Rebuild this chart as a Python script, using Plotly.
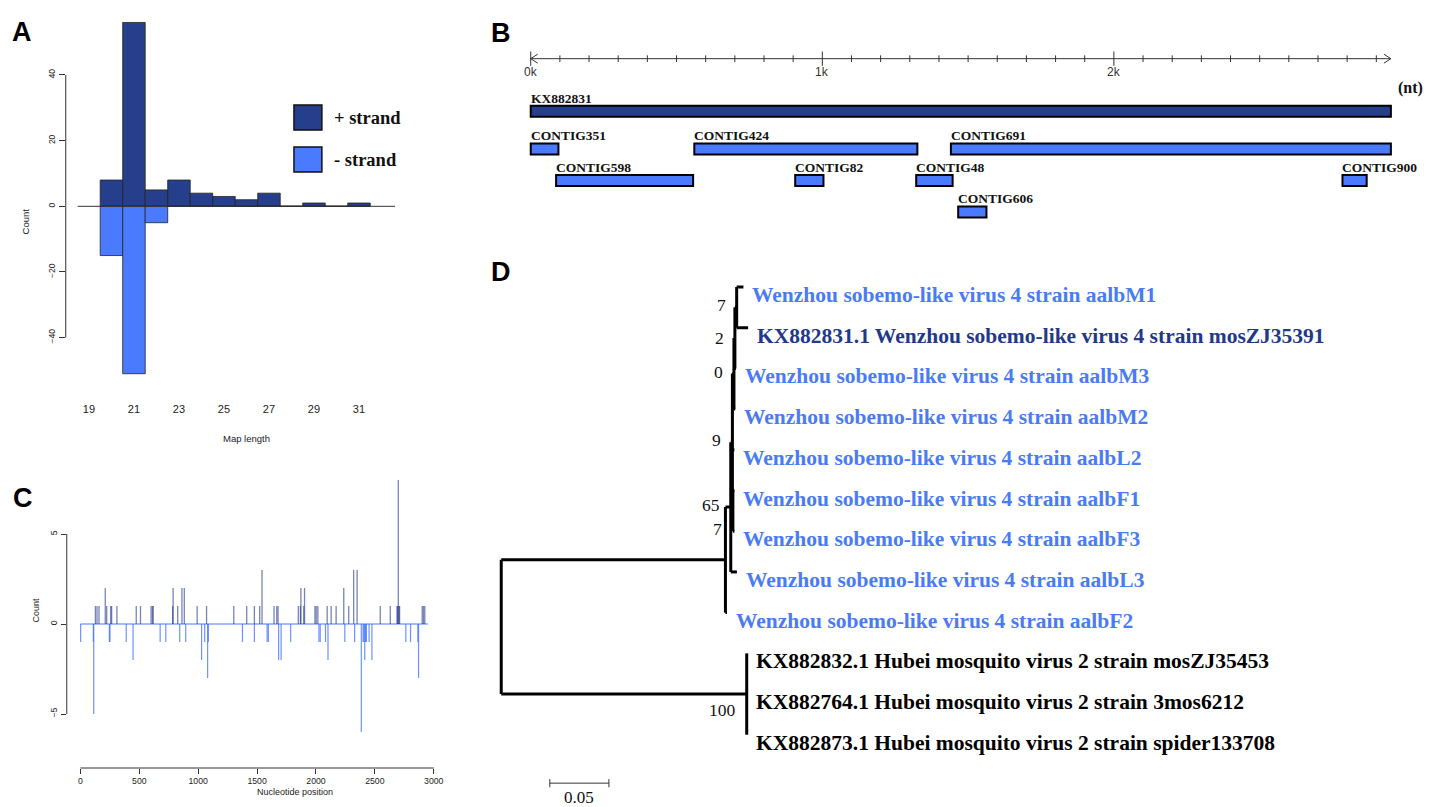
import plotly.graph_objects as go

W, H = 1430, 807
dark = "#253F8C"
light = "#4A7BFF"
serif = "Liberation Serif"
sans = "Liberation Sans"

# ---------------- A: read length distribution
map_length = [20, 21, 22, 23, 24, 25, 26, 27, 28, 29, 30, 31]
plus_count = [8, 56, 5, 8, 4, 3, 2, 4, 0, 1, 0, 1]
minus_count = [15, 51, 5, 0, 0, 0, 0, 0, 0, 0, 0, 0]
a_ticks = [19, 21, 23, 25, 27, 29, 31]

# ---------------- B: contig map
genome_len = 2950
ref_name = "KX882831"
contig_names = ["CONTIG351", "CONTIG424", "CONTIG691", "CONTIG598",
                "CONTIG82", "CONTIG48", "CONTIG900", "CONTIG606"]
contig_start = [0, 561, 1441, 87, 907, 1322, 2784, 1466]
contig_end = [95, 1326, 2950, 557, 1004, 1447, 2867, 1563]
contig_row = [1, 1, 1, 2, 2, 2, 2, 3]

# ---------------- C: 5' positions of reads
plus_pos = [127, 141, 158, 211, 223, 257, 265, 310, 474, 510, 600, 612, 618,
            783, 787, 826, 862, 882, 991, 1071, 1302, 1412, 1477, 1522, 1542,
            1644, 1667, 1678, 1850, 1868, 1872, 1896, 1903, 1991, 2002, 2016,
            2095, 2129, 2171, 2236, 2278, 2320, 2349, 2546, 2631, 2688, 2693,
            2699, 2705, 2710, 2902, 2913, 2924]
plus_n = [1, 1, 1, 2, 1, 1, 1, 1, 1, 1, 1, 1, 1,
          1, 2, 1, 2, 2, 1, 1, 1, 1, 1, 1, 3,
          1, 1, 1, 1, 1, 2, 1, 2, 1, 1, 1,
          1, 1, 1, 2, 1, 3, 3, 1, 1, 1, 1,
          8, 1, 1, 1, 1, 1]
minus_pos = [2, 110, 113, 246, 251, 389, 447, 677, 725, 843, 894, 1029, 1055,
             1080, 1086, 1376, 1477, 1585, 1596, 1683, 1704, 1785, 2025, 2036,
             2081, 2102, 2245, 2328, 2385, 2400, 2407, 2414, 2421, 2428, 2451,
             2475, 2763, 2803, 2865, 2871]
minus_n = [1, 1, 5, 1, 1, 1, 2, 1, 1, 1, 1, 2, 1,
           3, 1, 1, 1, 1, 1, 2, 2, 1, 1, 1,
           1, 2, 1, 1, 6, 1, 1, 2, 1, 1, 1,
           2, 1, 1, 1, 3]

# ---------------- D: phylogenetic tree
tree_children = {
    "root": ["W", "H"],
    "W": ["N65", "F2"],
    "N65": ["N9", "L3"],
    "N9": ["N0", "L2", "N7b"],
    "N0": ["N2", "M2"],
    "N2": ["N7a", "M3"],
    "N7a": ["M1", "KX831"],
    "N7b": ["F1", "F3"],
    "H": ["KX832", "KX764", "KX873"],
}
branch_len = {
    "W": 0.1897, "H": 0.2077, "F2": 0.0013, "N65": 0.0045, "L3": 0.0052,
    "N9": 0.0014, "N0": 0.0013, "L2": 0.0017, "N7b": 0.0004, "F1": 0.0013,
    "F3": 0.0013, "N2": 0.0008, "M2": 0.0011, "N7a": 0.0015, "M3": 0.0009,
    "M1": 0.0057, "KX831": 0.0097, "KX832": 0.0, "KX764": 0.0, "KX873": 0.0,
}
leaf_label = {
    "M1": "Wenzhou sobemo-like virus 4 strain aalbM1",
    "KX831": "KX882831.1 Wenzhou sobemo-like virus 4 strain mosZJ35391",
    "M3": "Wenzhou sobemo-like virus 4 strain aalbM3",
    "M2": "Wenzhou sobemo-like virus 4 strain aalbM2",
    "L2": "Wenzhou sobemo-like virus 4 strain aalbL2",
    "F1": "Wenzhou sobemo-like virus 4 strain aalbF1",
    "F3": "Wenzhou sobemo-like virus 4 strain aalbF3",
    "L3": "Wenzhou sobemo-like virus 4 strain aalbL3",
    "F2": "Wenzhou sobemo-like virus 4 strain aalbF2",
    "KX832": "KX882832.1 Hubei mosquito virus 2 strain mosZJ35453",
    "KX764": "KX882764.1 Hubei mosquito virus 2 strain 3mos6212",
    "KX873": "KX882873.1 Hubei mosquito virus 2 strain spider133708",
}
bootstrap = {"N7a": 7, "N2": 2, "N0": 0, "N9": 9, "N65": 65, "N7b": 7, "H": 100}
scale_len = 0.05

leaf_color = {k: "#4A7BF5" for k in leaf_label}
leaf_color["KX831"] = "#22388A"
for k in ["KX832", "KX764", "KX873"]:
    leaf_color[k] = "#000000"
boot_yshift = {"N7a": 2, "N0": 2, "N9": 2, "N65": 2, "N7b": -18, "H": -16}


def px(x):
    return x / W


def py(y):
    return 1 - y / H


fig = go.Figure()
shapes = []
ann = []

# ---------- panel A
fig.add_trace(go.Bar(x=map_length, y=plus_count, width=1, marker_color=dark,
                     marker_line=dict(color="#222", width=0.8), xaxis="x", yaxis="y"))
fig.add_trace(go.Bar(x=map_length, y=[-c for c in minus_count], width=1, marker_color=light,
                     marker_line=dict(color="#222", width=0.8), xaxis="x", yaxis="y"))
shapes.append(dict(type="line", xref="x domain", yref="y", x0=0, x1=0, y0=-40, y1=40,
                   line=dict(color="#333", width=1)))
shapes.append(dict(type="line", xref="x", yref="y", x0=18.5, x1=32.6, y0=0, y1=0,
                   line=dict(color="#333", width=1)))
for i, (lab, col) in enumerate([("+ strand", dark), ("- strand", light)]):
    y0 = 105 + i * 42
    shapes.append(dict(type="rect", xref="paper", yref="paper", x0=px(295), x1=px(323),
                       y0=py(y0 + 25), y1=py(y0), fillcolor=col, line=dict(color="#111", width=1.5)))
    ann.append(dict(x=px(333), y=py(y0 + 12.5), xref="paper", yref="paper", text=lab,
                    xanchor="left", yanchor="middle", showarrow=False,
                    font=dict(family=serif, size=18.5, color="#111", weight="bold")))
ann.append(dict(x=px(18), y=py(206), xref="paper", yref="paper", text="Count", textangle=-90,
                showarrow=False, font=dict(family=sans, size=9.5, color="#222")))
ann.append(dict(x=px(222), y=py(438), xref="paper", yref="paper", text="Map length",
                showarrow=False, font=dict(family=sans, size=9.5, color="#222")))

# ---------- panel C
base_x = [0, genome_len]
fig.add_trace(go.Scatter(x=base_x, y=[0, 0], mode="lines", line=dict(color=light, width=1.2),
                         xaxis="x2", yaxis="y2"))


def spikes(pos, n, sign):
    xs, ys = [], []
    for p, c in zip(pos, n):
        xs += [p, p, None]
        ys += [0, sign * c, None]
    return xs, ys


mx, my = spikes(minus_pos, minus_n, -1)
fig.add_trace(go.Scatter(x=mx, y=my, mode="lines", line=dict(color="rgba(60,110,255,0.75)", width=1.2),
                         xaxis="x2", yaxis="y2"))
sx, sy = spikes(plus_pos, plus_n, 1)
fig.add_trace(go.Scatter(x=sx, y=sy, mode="lines", line=dict(color="rgba(30,50,135,0.6)", width=1.3),
                         xaxis="x2", yaxis="y2"))
shapes.append(dict(type="line", xref="x2", yref="y2 domain", x0=0, x1=3000, y0=0, y1=0,
                   line=dict(color="#333", width=1)))
shapes.append(dict(type="line", xref="x2 domain", yref="y2", x0=0, x1=0, y0=-5, y1=5,
                   line=dict(color="#333", width=1)))
ann.append(dict(x=px(29), y=py(624), xref="paper", yref="paper", text="Count", textangle=-90,
                showarrow=False, font=dict(family=sans, size=9, color="#222")))
ann.append(dict(x=px(256), y=py(799), xref="paper", yref="paper", text="Nucleotide position",
                showarrow=False, font=dict(family=sans, size=9, color="#222")))

# ---------- panel B
ruler_row = -1.867
rx, ry = [0, genome_len, None], [ruler_row, ruler_row, None]
for t in range(0, genome_len, 100):
    h = 0.228 if t % 1000 == 0 else 0.106
    rx += [t, t, None]
    ry += [ruler_row - h, ruler_row + h, None]
for end, d in [(0, 1), (genome_len, -1)]:
    rx += [end + d * 24, end, end + d * 24, None]
    ry += [ruler_row - 0.143, ruler_row, ruler_row + 0.143, None]
fig.add_trace(go.Scatter(x=rx, y=ry, mode="lines", line=dict(color="#333", width=1),
                         xaxis="x3", yaxis="y3"))
for k in range(0, genome_len, 1000):
    ann.append(dict(x=k, y=ruler_row, xref="x3", yref="y3", text=f"{k // 1000}k", yshift=-13,
                    showarrow=False, font=dict(family=sans, size=12, color="#333")))
ann.append(dict(x=px(1401), y=py(77), xref="paper", yref="paper", text="(nt)", xanchor="left",
                showarrow=False, font=dict(family=serif, size=16, color="#111", weight="bold")))

ref_row = -0.2
fig.add_trace(go.Bar(y=[ref_row], x=[genome_len], base=[0], orientation="h", width=0.35,
                     marker_color=dark, marker_line=dict(color="#000", width=2),
                     xaxis="x3", yaxis="y3"))
fig.add_trace(go.Bar(y=contig_row, x=[e - s for s, e in zip(contig_start, contig_end)],
                     base=contig_start, orientation="h", width=0.35, marker_color=light,
                     marker_line=dict(color="#000", width=2), xaxis="x3", yaxis="y3"))
for name, s, r in [(ref_name, 0, ref_row)] + list(zip(contig_names, contig_start, contig_row)):
    ann.append(dict(x=s, y=r, xref="x3", yref="y3", text=name, xanchor="left", yanchor="middle",
                    yshift=13, xshift=-2, showarrow=False,
                    font=dict(family=serif, size=13.5, color="#111", weight="bold")))

# ---------- panel D
node_x, node_y = {"root": 0.0}, {}
leaves = []


def walk(n):
    for c in tree_children.get(n, []):
        node_x[c] = node_x[n] + branch_len[c]
        walk(c)
    if n not in tree_children:
        node_y[n] = len(leaves)
        leaves.append(n)
    else:
        kids = tree_children[n]
        node_y[n] = (node_y[kids[0]] + node_y[kids[-1]]) / 2


walk("root")
tx, ty = [], []
for n, kids in tree_children.items():
    ys = [node_y[c] for c in kids]
    tx += [node_x[n], node_x[n], None]
    ty += [min(ys), max(ys), None]
    for c in kids:
        tx += [node_x[n], node_x[c], None]
        ty += [node_y[c], node_y[c], None]
fig.add_trace(go.Scatter(x=tx, y=ty, mode="lines", line=dict(color="#000", width=3),
                         xaxis="x4", yaxis="y4"))
for lf in leaves:
    ann.append(dict(x=node_x[lf], y=node_y[lf], xref="x4", yref="y4", text=leaf_label[lf],
                    xanchor="left", yanchor="middle", xshift=7, yshift=-8, showarrow=False,
                    font=dict(family=serif, size=21.5, color=leaf_color[lf], weight="bold")))
for n, v in bootstrap.items():
    ann.append(dict(x=node_x[n], y=node_y[n], xref="x4", yref="y4", text=str(v),
                    xanchor="right", yanchor="middle", xshift=-9, yshift=boot_yshift.get(n, 0),
                    showarrow=False, font=dict(family=serif, size=17.5, color="#111")))
sb_x, sb_y = 0.0411, 12.19
fig.add_trace(go.Scatter(x=[sb_x, sb_x + scale_len, None, sb_x, sb_x, None, sb_x + scale_len, sb_x + scale_len],
                         y=[sb_y, sb_y, None, sb_y - 0.1, sb_y + 0.1, None, sb_y - 0.1, sb_y + 0.1],
                         mode="lines", line=dict(color="#333", width=1), xaxis="x4", yaxis="y4"))
ann.append(dict(x=sb_x + scale_len / 2, y=sb_y, xref="x4", yref="y4", text=str(scale_len),
                yshift=-14, showarrow=False, font=dict(family=serif, size=17, color="#111")))

# ---------- panel letters
for letter, x, y in [("A", 10, 15), ("B", 503, 16), ("C", 11, 498), ("D", 503, 255)]:
    ann.append(dict(x=px(x), y=py(y), xref="paper", yref="paper", text=letter, showarrow=False,
                    font=dict(family=sans, size=27, color="#000", weight="bold")))

hidden = dict(visible=False, showgrid=False, zeroline=False)
fig.update_layout(
    width=W, height=H, margin=dict(l=0, r=0, t=0, b=0),
    paper_bgcolor="white", plot_bgcolor="white", showlegend=False, barmode="overlay",
    xaxis=dict(domain=[px(66), px(400)], range=[17.97, 32.76], tickvals=a_ticks, anchor="y",
               showgrid=False, zeroline=False, showline=False, ticks="outside", ticklen=4,
               tickcolor="rgba(0,0,0,0)", tickfont=dict(family=sans, size=11, color="#222")),
    yaxis=dict(domain=[py(395), py(15)], range=[-57.48, 58.27], tickvals=[-40, -20, 0, 20, 40],
               anchor="x", showgrid=False, zeroline=False, showline=False, ticks="outside",
               ticklen=6, tickcolor="#333", tickangle=-90,
               tickfont=dict(family=sans, size=8.5, color="#222")),
    xaxis2=dict(domain=[px(67), px(440)], range=[-115.9, 3040], tickvals=list(range(0, 3001, 500)),
                anchor="y2", showgrid=False, zeroline=False, showline=False, ticks="outside",
                ticklen=5, tickcolor="#333", tickfont=dict(family=sans, size=8.7, color="#222")),
    yaxis2=dict(domain=[py(768), py(480)], range=[-8, 8], tickvals=[-5, 0, 5], anchor="x2",
                showgrid=False, zeroline=False, showline=False, ticks="outside", ticklen=5,
                tickcolor="#333", tickangle=-90, tickfont=dict(family=sans, size=8.7, color="#222")),
    xaxis3=dict(domain=[px(505), px(1425)], range=[-94.3, 3049.9], anchor="y3", **hidden),
    yaxis3=dict(domain=[py(235), py(40)], range=[3.730, -2.460], anchor="x3", **hidden),
    xaxis4=dict(domain=[px(490), px(1425)], range=[-0.01096, 0.7774], anchor="y4", **hidden),
    yaxis4=dict(domain=[py(800), py(270)], range=[12.604, -0.418], anchor="x4", **hidden),
    shapes=shapes, annotations=ann,
)

# the page body has a default 8px margin; remove it so the figure fills the window
fig.write_html("out.html", config={"displayModeBar": False},
               post_script="document.body.style.margin='0';")
